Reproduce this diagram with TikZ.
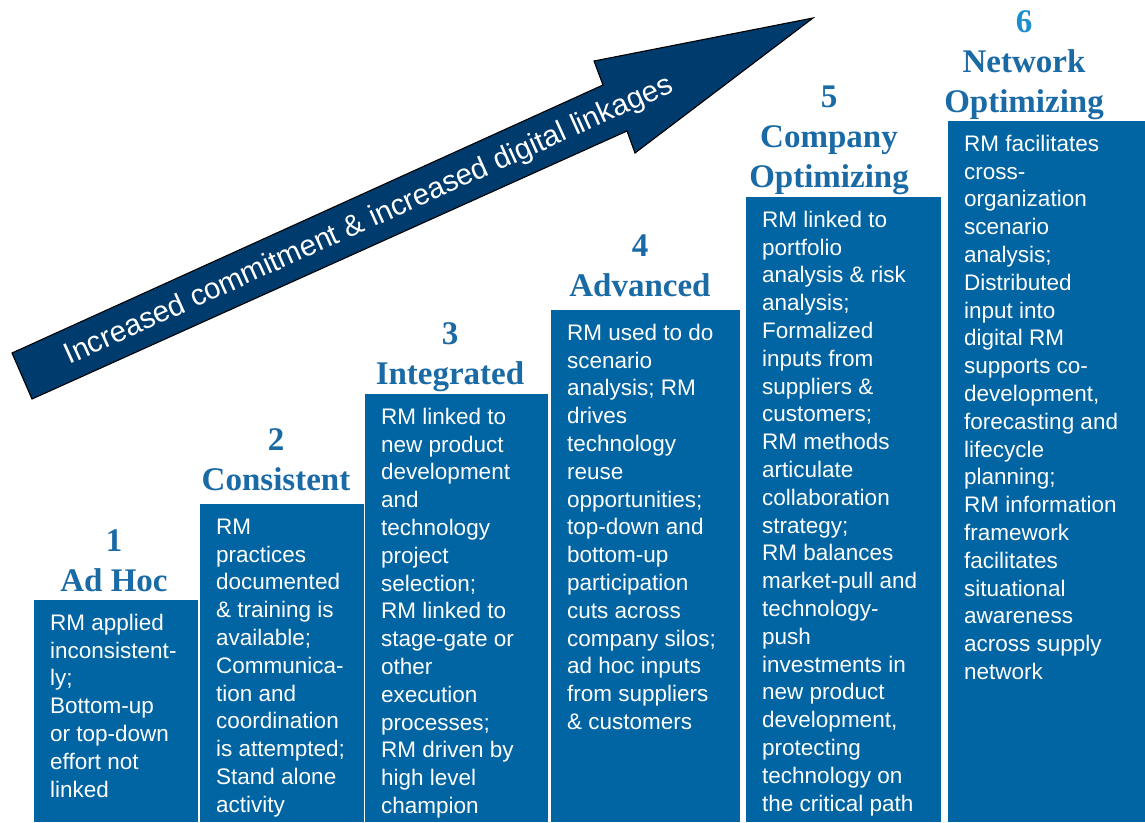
\documentclass[tikz,border=0pt]{standalone}
\usepackage{fontspec}
\setmainfont{Liberation Serif}
\newfontfamily\arialf{Liberation Sans}
\definecolor{boxblue}{HTML}{0065A2}
\definecolor{headblue}{HTML}{1A6AA6}
\definecolor{headlight}{HTML}{1C8ED0}
\definecolor{arrownavy}{HTML}{003B6D}
\tikzset{
  stage/.style={fill=boxblue, draw=none, inner sep=0pt, outer sep=0pt, anchor=north west},
  bodytext/.style={anchor=north west, inner sep=0pt, text=white, align=left,
    font=\arialf\fontsize{22.5}{27.8}\selectfont},
  headtext/.style={anchor=north, inner sep=0pt, text=headblue, align=center,
    font=\bfseries\fontsize{33}{40}\selectfont},
  bigarrow/.style={fill=arrownavy, draw=black, line width=1.1pt, line join=miter},
  arrowlabel/.style={text=white, inner sep=0pt, font=\arialf\fontsize{29.5}{34}\selectfont},
}
\begin{document}
\begin{tikzpicture}[x=1pt,y=-1pt]
\useasboundingbox (0,0) rectangle (1145,822);
\fill[white] (0,0) rectangle (1145,822);

% stage boxes
\node[stage, minimum width=164pt, minimum height=222pt] (b1) at (34,600) {};
\node[stage, minimum width=164pt, minimum height=318pt] (b2) at (200,504) {};
\node[stage, minimum width=183pt, minimum height=428pt] (b3) at (365,394) {};
\node[stage, minimum width=189pt, minimum height=512pt] (b4) at (551,310) {};
\node[stage, minimum width=195pt, minimum height=625pt] (b5) at (746,197) {};
\node[stage, minimum width=197pt, minimum height=701pt] (b6) at (948,121) {};

% headings
\node[headtext] (h1) at (114,523) {\rule{0pt}{28pt}1\\Ad Hoc};
\node[headtext] (h2) at (276,422) {\rule{0pt}{28pt}2\\Consistent};
\node[headtext] (h3) at (450,316) {\rule{0pt}{28pt}3\\Integrated};
\node[headtext] (h4) at (640,228) {\rule{0pt}{28pt}4\\Advanced};
\node[headtext] (h5) at (829,79) {\rule{0pt}{28pt}5\\Company\\Optimizing};
\node[headtext] (h6) at (1024,4) {\rule{0pt}{28pt}{\color{headlight}6}\\Network\\Optimizing};

% body texts
\node[bodytext] (t1) at ([xshift=16pt,yshift=-10pt]b1.north west) {\rule{0pt}{20pt}RM applied\\inconsistent-\\ly;\\Bottom-up\\or top-down\\effort not\\linked};
\node[bodytext] (t2) at ([xshift=16pt,yshift=-10pt]b2.north west) {\rule{0pt}{20pt}RM\\practices\\documented\\\& training is\\available;\\Communica-\\tion and\\coordination\\is attempted;\\Stand alone\\activity};
\node[bodytext] (t3) at ([xshift=16pt,yshift=-10pt]b3.north west) {\rule{0pt}{20pt}RM linked to\\new product\\development\\and\\technology\\project\\selection;\\RM linked to\\stage-gate or\\other\\execution\\processes;\\RM driven by\\high level\\champion};
\node[bodytext] (t4) at ([xshift=16pt,yshift=-10pt]b4.north west) {\rule{0pt}{20pt}RM used to do\\scenario\\analysis; RM\\drives\\technology\\reuse\\opportunities;\\top-down and\\bottom-up\\participation\\cuts across\\company silos;\\ad hoc inputs\\from suppliers\\\& customers};
\node[bodytext] (t5) at ([xshift=16pt,yshift=-10pt]b5.north west) {\rule{0pt}{20pt}RM linked to\\portfolio\\analysis \& risk\\analysis;\\Formalized\\inputs from\\suppliers \&\\customers;\\RM methods\\articulate\\collaboration\\strategy;\\RM balances\\market-pull and\\technology-\\push\\investments in\\new product\\development,\\protecting\\technology on\\the critical path};
\node[bodytext] (t6) at ([xshift=16pt,yshift=-10pt]b6.north west) {\rule{0pt}{20pt}RM facilitates\\cross-\\organization\\scenario\\analysis;\\Distributed\\input into\\digital RM\\supports co-\\development,\\forecasting and\\lifecycle\\planning;\\RM information\\framework\\facilitates\\situational\\awareness\\across supply\\network};

% big arrow
\draw[bigarrow] (12,353) -- (603,85) -- (594,61) -- (813,18) -- (635,153) -- (627,131) -- (32,399) -- cycle;
\node[arrowlabel, rotate=24.3] (arrtext) at (369,221) {Increased commitment \& increased digital linkages};
\end{tikzpicture}
\end{document}
